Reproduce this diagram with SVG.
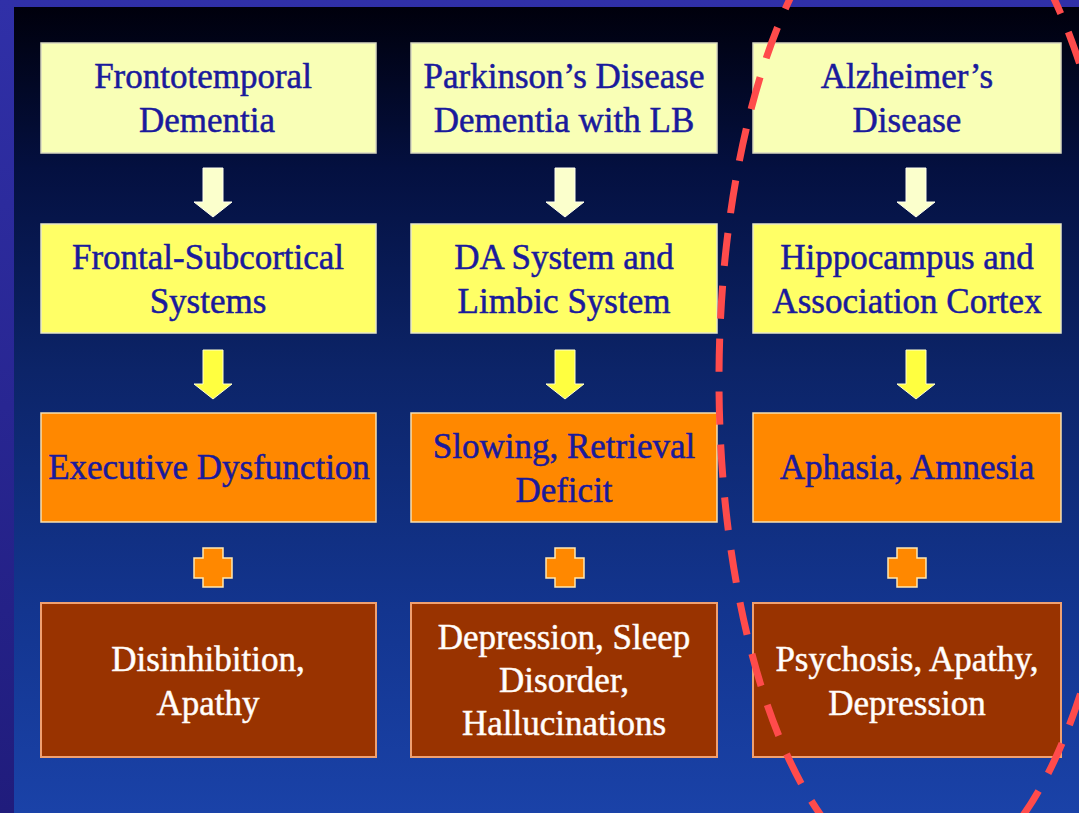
<svg xmlns="http://www.w3.org/2000/svg" width="1079" height="813" viewBox="0 0 1079 813">
<defs>
<linearGradient id="bg" x1="0" y1="0" x2="0" y2="1">
<stop offset="0" stop-color="#00000c"/>
<stop offset="0.2" stop-color="#041040"/>
<stop offset="0.45" stop-color="#0c2468"/>
<stop offset="0.75" stop-color="#13358f"/>
<stop offset="1" stop-color="#1a42a8"/>
</linearGradient>
<linearGradient id="frame" x1="0" y1="0" x2="0" y2="1">
<stop offset="0" stop-color="#3030a8"/>
<stop offset="1" stop-color="#201c7c"/>
</linearGradient>
<path id="arrow" d="M-10,0 H10 V34 H19 L0,49 L-19,34 H-10 Z"/>
<path id="plus" d="M-10,-19 H10 V-9 H19 V11 H10 V20 H-10 V11 H-19 V-9 H-10 Z"/>
</defs>
<style>
.t{font-family:"Liberation Serif","Times New Roman",serif;font-size:35px;text-anchor:middle;stroke-width:0.5}
.dk{fill:#1a1a9c;stroke:#1a1a9c}
.lt{fill:#ffffff;stroke:#fff4ec}
.r1{fill:#f9ffb6;stroke:#d8d8c0;stroke-width:1.5}
.r2{fill:#ffff66;stroke:#e8e8c8;stroke-width:1.5}
.r3{fill:#ff8800;stroke:#f8e0b0;stroke-width:1.5}
.r4{fill:#993300;stroke:#f0a070;stroke-width:2}
.a1{fill:#fbffcc;stroke:#fffff0;stroke-width:1}
.a2{fill:#ffff40;stroke:#ffffd0;stroke-width:1}
.pl{fill:#ff8800;stroke:#ffe8b0;stroke-width:1.5}
</style>
<rect x="0" y="0" width="1079" height="813" fill="url(#frame)"/>
<rect x="14" y="7" width="1065" height="806" fill="url(#bg)"/>

<g id="fronto-dementia"><rect class="r1" x="41" y="43" width="335" height="110"/><text class="t dk" x="203" y="88">Frontotemporal</text><text class="t dk" x="207" y="132">Dementia</text></g>
<g id="parkinson"><rect class="r1" x="411" y="43" width="306" height="110"/><text class="t dk" x="564" y="88">Parkinson’s Disease</text><text class="t dk" x="564" y="132">Dementia with LB</text></g>
<g id="alzheimer"><rect class="r1" x="753" y="43" width="308" height="110"/><text class="t dk" x="907" y="88">Alzheimer’s</text><text class="t dk" x="907" y="132">Disease</text></g>

<g id="frontal-subcortical"><rect class="r2" x="41" y="224" width="335" height="109"/><text class="t dk" x="208" y="269">Frontal-Subcortical</text><text class="t dk" x="208" y="313">Systems</text></g>
<g id="da-limbic"><rect class="r2" x="411" y="224" width="306" height="109"/><text class="t dk" x="564" y="269">DA System and</text><text class="t dk" x="564" y="313">Limbic System</text></g>
<g id="hippocampus"><rect class="r2" x="753" y="224" width="308" height="109"/><text class="t dk" x="907" y="269">Hippocampus and</text><text class="t dk" x="907" y="313">Association Cortex</text></g>

<g id="executive"><rect class="r3" x="41" y="413" width="335" height="109"/><text class="t dk" x="209" y="479">Executive Dysfunction</text></g>
<g id="slowing"><rect class="r3" x="411" y="413" width="306" height="109"/><text class="t dk" x="564" y="458">Slowing, Retrieval</text><text class="t dk" x="564" y="502">Deficit</text></g>
<g id="aphasia"><rect class="r3" x="753" y="413" width="308" height="109"/><text class="t dk" x="907" y="479">Aphasia, Amnesia</text></g>

<g id="disinhibition"><rect class="r4" x="41" y="603" width="335" height="154"/><text class="t lt" x="208" y="671">Disinhibition,</text><text class="t lt" x="208" y="715">Apathy</text></g>
<g id="depression-sleep"><rect class="r4" x="411" y="603" width="306" height="154"/><text class="t lt" x="564" y="649">Depression, Sleep</text><text class="t lt" x="564" y="692">Disorder,</text><text class="t lt" x="564" y="735">Hallucinations</text></g>
<g id="psychosis"><rect class="r4" x="753" y="603" width="308" height="154"/><text class="t lt" x="907" y="671">Psychosis, Apathy,</text><text class="t lt" x="907" y="715">Depression</text></g>

<g id="connectors">
<use href="#arrow" class="a1" x="213" y="168"/>
<use href="#arrow" class="a1" x="565" y="168"/>
<use href="#arrow" class="a1" x="916" y="168"/>
<use href="#arrow" class="a2" x="213" y="350"/>
<use href="#arrow" class="a2" x="565" y="350"/>
<use href="#arrow" class="a2" x="916" y="350"/>
<use href="#plus" class="pl" x="213" y="567"/>
<use href="#plus" class="pl" x="565" y="567"/>
<use href="#plus" class="pl" x="907" y="567"/>
</g>

<g id="highlight"><ellipse cx="922" cy="380" rx="203" ry="502" fill="none" stroke="#ff4b4b" stroke-width="7" stroke-dasharray="33 20"/></g>
</svg>
